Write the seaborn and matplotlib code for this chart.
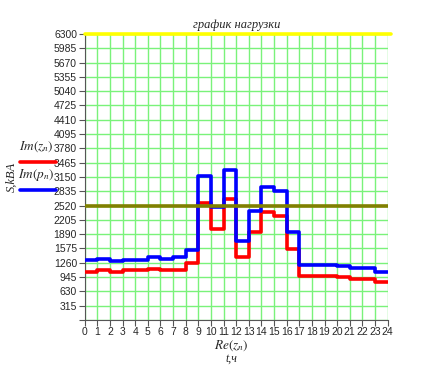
import pandas as pd
import matplotlib.pyplot as plt
import seaborn as sns
from matplotlib.lines import Line2D

# hourly load, kVA (step value held over each hour)
hours = list(range(25))
im_z = [1065, 1095, 1050, 1095, 1095, 1125, 1090, 1110, 1245, 2570, 2010, 2660,
        1390, 1945, 2370, 2280, 1560, 965, 965, 965, 945, 905, 905, 840]
im_p = [1320, 1350, 1305, 1320, 1320, 1390, 1350, 1380, 1545, 3180, 2490, 3300,
        1740, 2410, 2920, 2830, 1930, 1200, 1205, 1205, 1185, 1135, 1135, 1055]
s_max = 6300
s_limit = 2520
y_ticks = list(range(0, 6301, 315))

# last value repeated so the step reaches hour 24
df = pd.DataFrame({
    "t": hours + hours,
    "S": im_z + im_z[-1:] + im_p + im_p[-1:],
    "series": ["z"] * 25 + ["p"] * 25,
})

sns.set_style("white")
plt.rcParams["font.family"] = ["Liberation Sans", "DejaVu Sans"]
plt.rcParams["mathtext.fontset"] = "stix"

fig = plt.figure(figsize=(4.31, 3.69), dpi=100)
ax = fig.add_axes([0.1965, 0.133, 0.703, 0.775])

sns.lineplot(data=df, x="t", y="S", hue="series", palette={"z": "#ff0000", "p": "#0000ff"},
             estimator=None, drawstyle="steps-post", linewidth=2.6, legend=False,
             ax=ax, zorder=4)

ax.axhline(s_limit, color="#808000", linewidth=2.6, zorder=5)
ax.axhline(s_max, color="#ffff00", linewidth=2.6, zorder=6, clip_on=False, xmax=1.01)

ax.set_xlim(0, 24)
ax.set_ylim(0, s_max)
ax.set_xticks(hours)
ax.set_xticklabels([str(h) for h in hours])
ax.set_yticks(y_ticks)
ax.set_yticklabels([""] + [str(v) for v in y_ticks[1:]])
ax.grid(True, color="#7af27a", linewidth=1.0, zorder=0)
ax.set_axisbelow(True)
ax.tick_params(axis="both", direction="out", length=4, width=0.8, color="#555555",
               labelsize=7.5, pad=1.5, left=True, bottom=True)
ax.tick_params(axis="x", pad=1)
for side in ["top", "right"]:
    ax.spines[side].set_visible(False)
for side in ["left", "bottom"]:
    ax.spines[side].set_color("#555555")
    ax.spines[side].set_linewidth(0.8)

ax.set_xlabel("")
ax.set_ylabel("")

serif = ["Liberation Serif", "DejaVu Serif"]
fig.text(0.548, 0.932, "график нагрузки", ha="center", va="center",
         fontsize=9, style="italic", family=serif)
fig.text(0.028, 0.52, "S,kBA", rotation=90, ha="center", va="center",
         fontsize=9, style="italic", family=serif)
fig.text(0.538, 0.064, r"$Re(z_n)$", ha="center", va="center", fontsize=9.5)
fig.text(0.538, 0.027, "t,ч", ha="center", va="center", fontsize=8.5, style="italic", family=serif)

# legend on the left
fig.text(0.084, 0.602, r"$Im(z_n)$", ha="center", va="center", fontsize=9.5)
fig.text(0.084, 0.526, r"$Im(p_n)$", ha="center", va="center", fontsize=9.5)
fig.add_artist(Line2D([0.046, 0.130], [0.560, 0.560], color="#ff0000", linewidth=2.6,
                      transform=fig.transFigure))
fig.add_artist(Line2D([0.046, 0.130], [0.485, 0.485], color="#0000ff", linewidth=2.6,
                      transform=fig.transFigure))

fig.savefig("out.png", dpi=100, facecolor="white")
